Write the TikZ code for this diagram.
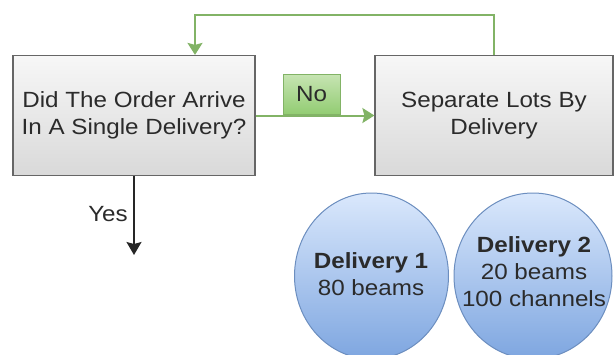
\documentclass[tikz,border=0pt]{standalone}
\usepackage{fontspec}
\setmainfont{Liberation Sans}[FakeStretch=1.1]
\usetikzlibrary{arrows.meta,shapes.geometric}
\definecolor{boxline}{HTML}{666666}
\definecolor{boxtop}{HTML}{F7F7F7}
\definecolor{boxbot}{HTML}{D9D9D9}
\definecolor{flowgreen}{HTML}{82B366}
\definecolor{tagtop}{HTML}{C6E4B2}
\definecolor{tagbot}{HTML}{92CC72}
\definecolor{bubtop}{HTML}{DAE8FC}
\definecolor{bubbot}{HTML}{7EA6E0}
\definecolor{bubline}{HTML}{6C8EBF}
\definecolor{inktext}{HTML}{2B2B2B}
\begin{document}
\begin{tikzpicture}[x=1pt,y=-1pt,
  txt/.style={font=\fontsize{22}{27}\selectfont, text=inktext, align=center},
  proc/.style={txt, draw=boxline, line width=1.2pt, top color=boxtop, bottom color=boxbot,
    minimum height=120pt, inner sep=0pt},
  tag/.style={txt, draw=flowgreen, line width=1pt, top color=tagtop, bottom color=tagbot,
    minimum width=57pt, minimum height=40pt, inner sep=0pt},
  bubble/.style={ellipse, draw=bubline, line width=1pt, top color=bubtop, bottom color=bubbot,
    minimum height=166pt, inner sep=0pt},
  gflow/.style={draw=flowgreen, line width=2pt, -{Stealth[length=12pt,width=15pt,inset=2pt]}},
  kflow/.style={draw=black!85, line width=1.5pt, -{Stealth[length=13pt,width=15pt,inset=2pt]}}
]
\useasboundingbox (0,0) rectangle (614,354);

% process boxes
\node[proc, minimum width=242pt] (ask) at (134,115.5) {Did The Order Arrive\\In A Single Delivery?};
\node[proc, minimum width=238pt] (split) at (494,115.5) {Separate Lots By\\Delivery};

% "No" branch
\draw[gflow] (ask.east) -- (split.west);
\node[tag, anchor=south] (no) at (311.5,115) {No};

% loop back over the top
\coordinate (loopcorner) at (195,15);
\draw[gflow] (split.north) |- (loopcorner) -- (loopcorner |- ask.north);

% "Yes" branch
\coordinate (yesend) at (134,255);
\draw[kflow] (ask.south) -- (yesend);
\node[txt] (yes) at (108,214) {Yes};

% deliveries
\node[bubble, minimum width=154pt] (d1) at (371.5,276) {};
\node[bubble, minimum width=158pt] (d2) at (533,276) {};
\node[txt] (d1t) at (371,274) {\textbf{Delivery 1}\\80 beams};
\node[txt] (d2t) at (534,272) {\textbf{Delivery 2}\\20 beams\\100 channels};
\end{tikzpicture}
\end{document}
